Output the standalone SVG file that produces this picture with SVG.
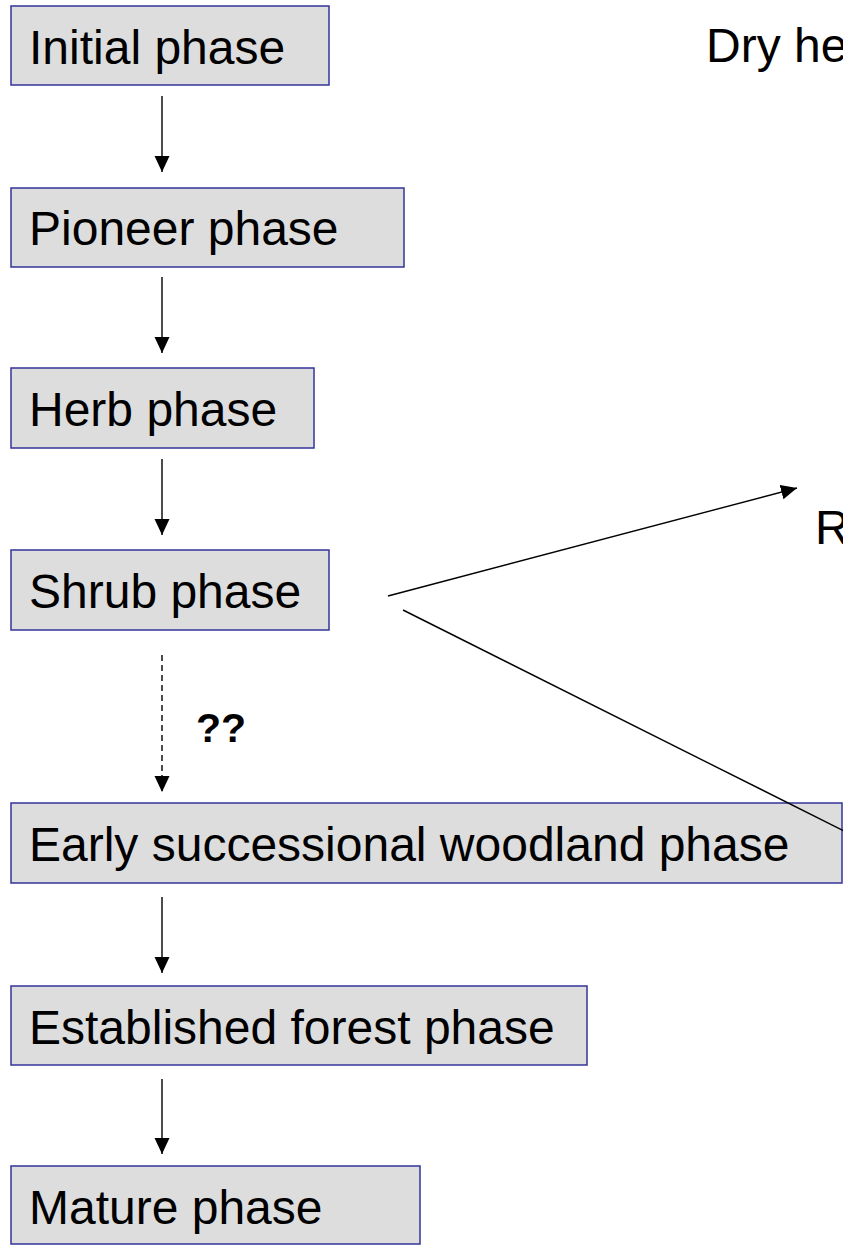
<svg xmlns="http://www.w3.org/2000/svg" width="843" height="1245" viewBox="0 0 843 1245">
<style>
.box{fill:#dddddd;stroke:#333399;stroke-width:1.5}
.lbl{font-family:"Liberation Sans",Arial,sans-serif;font-size:48px;fill:#000}
.con{stroke:#000;stroke-width:1.4;fill:none}
</style>
<defs>
<marker id="ah" markerUnits="userSpaceOnUse" markerWidth="17" markerHeight="16" refX="16" refY="7.5" orient="auto">
<path d="M0,0 L16,7.5 L0,15 z" fill="#000"/>
</marker>
</defs>
<rect width="843" height="1245" fill="#fff"/>
<g id="initial"><rect class="box" x="11" y="6" width="318" height="79"/><text class="lbl" x="29" y="64">Initial phase</text></g>
<g id="pioneer"><rect class="box" x="11" y="188" width="393" height="79"/><text class="lbl" x="29" y="245">Pioneer phase</text></g>
<g id="herb"><rect class="box" x="11" y="368" width="303" height="80"/><text class="lbl" x="29" y="426">Herb phase</text></g>
<g id="shrub"><rect class="box" x="11" y="550" width="318" height="80"/><text class="lbl" x="29" y="608">Shrub phase</text></g>
<g id="early"><rect class="box" x="11" y="803" width="831" height="80"/><text class="lbl" x="29" y="861">Early successional woodland phase</text></g>
<g id="established"><rect class="box" x="11" y="986" width="576" height="79"/><text class="lbl" x="29" y="1044">Established forest phase</text></g>
<g id="mature"><rect class="box" x="11" y="1166" width="409" height="78"/><text class="lbl" x="29" y="1224">Mature phase</text></g>
<g id="dryhe"><text class="lbl" x="706" y="62">Dry he</text></g>
<g id="r"><text class="lbl" x="815" y="544">R</text></g>
<g id="connectors">
<line class="con" x1="162" y1="96" x2="162" y2="172" marker-end="url(#ah)"/>
<line class="con" x1="162" y1="277" x2="162" y2="353" marker-end="url(#ah)"/>
<line class="con" x1="162" y1="459" x2="162" y2="535" marker-end="url(#ah)"/>
<line class="con" x1="162" y1="655" x2="162" y2="792" stroke-dasharray="6,4" marker-end="url(#ah)"/>
<line class="con" x1="162" y1="897" x2="162" y2="973" marker-end="url(#ah)"/>
<line class="con" x1="162" y1="1079" x2="162" y2="1154" marker-end="url(#ah)"/>
<line class="con" x1="388" y1="596" x2="797" y2="488" marker-end="url(#ah)"/>
<line class="con" x1="403" y1="610" x2="846" y2="832"/>
<text x="196" y="742" font-family="'Liberation Sans',Arial,sans-serif" font-size="41" font-weight="bold">??</text>
</g>
</svg>
